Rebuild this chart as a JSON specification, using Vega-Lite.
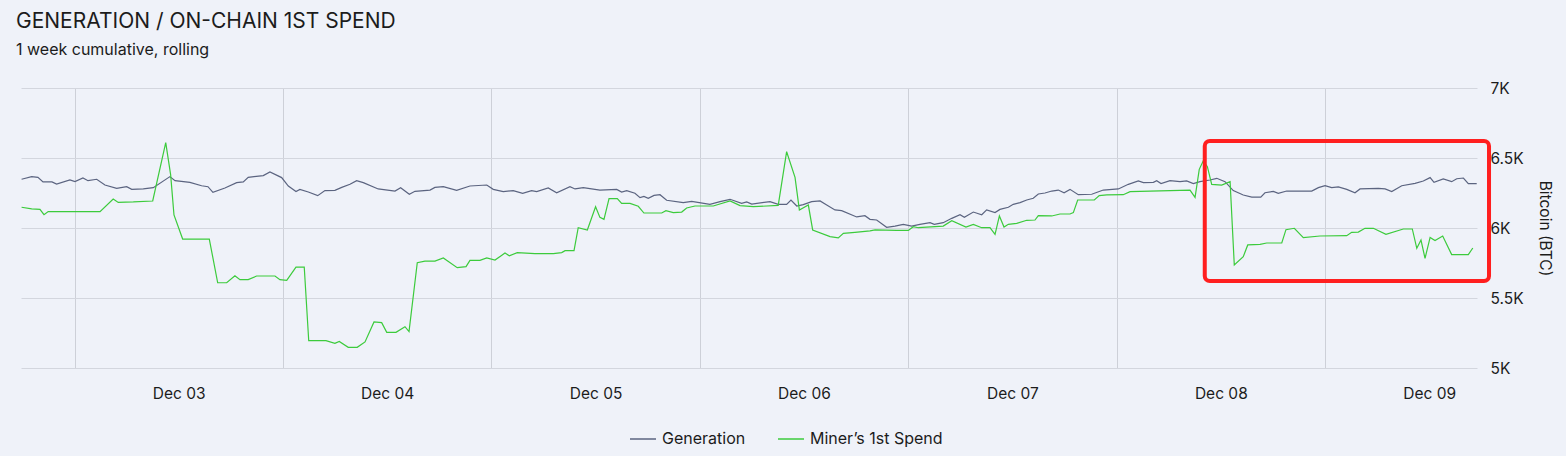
{
  "$schema": "https://vega.github.io/schema/vega-lite/v6.json",
  "width": 1456,
  "height": 280,
  "autosize": {"type": "none"},
  "padding": {"left": 21, "top": 88, "right": 89, "bottom": 88},
  "background": "#eff2f9",
  "title": {
    "text": "GENERATION / ON-CHAIN 1ST SPEND",
    "subtitle": "1 week cumulative, rolling",
    "anchor": "start",
    "frame": "group",
    "dx": -5,
    "offset": 23,
    "fontSize": 21,
    "fontWeight": "normal",
    "color": "#1c1c1c",
    "subtitleFontSize": 16,
    "subtitleColor": "#1c1c1c",
    "subtitlePadding": 10,
    "font": "Inter",
    "subtitleFont": "Inter"
  },
  "config": {
    "font": "Inter",
    "view": {"stroke": null},
    "axis": {"domain": false, "ticks": false, "gridColor": "#d3d6de", "gridWidth": 1, "labelColor": "#1c1c1c", "titleColor": "#1c1c1c"},
    "legend": {
      "orient": "none",
      "legendX": 608,
      "legendY": 337,
      "direction": "horizontal",
      "symbolType": "stroke",
      "symbolSize": 676,
      "symbolStrokeWidth": 1.5,
      "labelFontSize": 16,
      "labelColor": "#1c1c1c",
      "labelOffset": 5,
      "columnPadding": 29
    }
  },
  "datasets": {
    "series": [
      {"t": "2023-12-02T05:54", "s": "Generation", "v": 6348},
      {"t": "2023-12-02T07:04", "s": "Generation", "v": 6367},
      {"t": "2023-12-02T07:47", "s": "Generation", "v": 6362},
      {"t": "2023-12-02T08:22", "s": "Generation", "v": 6329},
      {"t": "2023-12-02T09:24", "s": "Generation", "v": 6329},
      {"t": "2023-12-02T09:56", "s": "Generation", "v": 6314},
      {"t": "2023-12-02T11:28", "s": "Generation", "v": 6343},
      {"t": "2023-12-02T12:03", "s": "Generation", "v": 6331},
      {"t": "2023-12-02T12:58", "s": "Generation", "v": 6357},
      {"t": "2023-12-02T13:33", "s": "Generation", "v": 6338},
      {"t": "2023-12-02T14:33", "s": "Generation", "v": 6348},
      {"t": "2023-12-02T15:30", "s": "Generation", "v": 6307},
      {"t": "2023-12-02T16:51", "s": "Generation", "v": 6283},
      {"t": "2023-12-02T18:00", "s": "Generation", "v": 6295},
      {"t": "2023-12-02T18:35", "s": "Generation", "v": 6276},
      {"t": "2023-12-02T19:55", "s": "Generation", "v": 6279},
      {"t": "2023-12-02T21:04", "s": "Generation", "v": 6288},
      {"t": "2023-12-02T22:59", "s": "Generation", "v": 6367},
      {"t": "2023-12-02T23:34", "s": "Generation", "v": 6338},
      {"t": "2023-12-03T01:17", "s": "Generation", "v": 6326},
      {"t": "2023-12-03T02:38", "s": "Generation", "v": 6302},
      {"t": "2023-12-03T03:22", "s": "Generation", "v": 6295},
      {"t": "2023-12-03T03:56", "s": "Generation", "v": 6255},
      {"t": "2023-12-03T05:19", "s": "Generation", "v": 6286},
      {"t": "2023-12-03T06:40", "s": "Generation", "v": 6324},
      {"t": "2023-12-03T07:26", "s": "Generation", "v": 6329},
      {"t": "2023-12-03T08:00", "s": "Generation", "v": 6362},
      {"t": "2023-12-03T09:44", "s": "Generation", "v": 6374},
      {"t": "2023-12-03T10:30", "s": "Generation", "v": 6400},
      {"t": "2023-12-03T11:51", "s": "Generation", "v": 6360},
      {"t": "2023-12-03T12:37", "s": "Generation", "v": 6300},
      {"t": "2023-12-03T13:30", "s": "Generation", "v": 6260},
      {"t": "2023-12-03T13:57", "s": "Generation", "v": 6276},
      {"t": "2023-12-03T14:55", "s": "Generation", "v": 6257},
      {"t": "2023-12-03T16:00", "s": "Generation", "v": 6231},
      {"t": "2023-12-03T16:50", "s": "Generation", "v": 6267},
      {"t": "2023-12-03T17:59", "s": "Generation", "v": 6269},
      {"t": "2023-12-03T18:46", "s": "Generation", "v": 6290},
      {"t": "2023-12-03T19:43", "s": "Generation", "v": 6312},
      {"t": "2023-12-03T20:29", "s": "Generation", "v": 6338},
      {"t": "2023-12-03T21:15", "s": "Generation", "v": 6324},
      {"t": "2023-12-03T22:58", "s": "Generation", "v": 6279},
      {"t": "2023-12-04T00:54", "s": "Generation", "v": 6264},
      {"t": "2023-12-04T01:33", "s": "Generation", "v": 6288},
      {"t": "2023-12-04T02:33", "s": "Generation", "v": 6241},
      {"t": "2023-12-04T03:12", "s": "Generation", "v": 6262},
      {"t": "2023-12-04T04:56", "s": "Generation", "v": 6271},
      {"t": "2023-12-04T05:30", "s": "Generation", "v": 6290},
      {"t": "2023-12-04T06:28", "s": "Generation", "v": 6295},
      {"t": "2023-12-04T08:00", "s": "Generation", "v": 6269},
      {"t": "2023-12-04T09:32", "s": "Generation", "v": 6300},
      {"t": "2023-12-04T11:28", "s": "Generation", "v": 6307},
      {"t": "2023-12-04T12:13", "s": "Generation", "v": 6276},
      {"t": "2023-12-04T13:22", "s": "Generation", "v": 6260},
      {"t": "2023-12-04T14:31", "s": "Generation", "v": 6267},
      {"t": "2023-12-04T15:36", "s": "Generation", "v": 6248},
      {"t": "2023-12-04T16:38", "s": "Generation", "v": 6267},
      {"t": "2023-12-04T17:13", "s": "Generation", "v": 6260},
      {"t": "2023-12-04T18:33", "s": "Generation", "v": 6286},
      {"t": "2023-12-04T19:31", "s": "Generation", "v": 6252},
      {"t": "2023-12-04T21:03", "s": "Generation", "v": 6295},
      {"t": "2023-12-04T21:38", "s": "Generation", "v": 6279},
      {"t": "2023-12-04T22:35", "s": "Generation", "v": 6288},
      {"t": "2023-12-05T00:30", "s": "Generation", "v": 6271},
      {"t": "2023-12-05T02:26", "s": "Generation", "v": 6276},
      {"t": "2023-12-05T03:00", "s": "Generation", "v": 6257},
      {"t": "2023-12-05T03:35", "s": "Generation", "v": 6267},
      {"t": "2023-12-05T04:32", "s": "Generation", "v": 6248},
      {"t": "2023-12-05T05:07", "s": "Generation", "v": 6217},
      {"t": "2023-12-05T05:34", "s": "Generation", "v": 6226},
      {"t": "2023-12-05T06:04", "s": "Generation", "v": 6212},
      {"t": "2023-12-05T06:44", "s": "Generation", "v": 6233},
      {"t": "2023-12-05T07:25", "s": "Generation", "v": 6238},
      {"t": "2023-12-05T08:11", "s": "Generation", "v": 6198},
      {"t": "2023-12-05T10:06", "s": "Generation", "v": 6181},
      {"t": "2023-12-05T11:04", "s": "Generation", "v": 6190},
      {"t": "2023-12-05T13:10", "s": "Generation", "v": 6169},
      {"t": "2023-12-05T14:20", "s": "Generation", "v": 6188},
      {"t": "2023-12-05T15:29", "s": "Generation", "v": 6205},
      {"t": "2023-12-05T16:49", "s": "Generation", "v": 6176},
      {"t": "2023-12-05T17:24", "s": "Generation", "v": 6186},
      {"t": "2023-12-05T17:59", "s": "Generation", "v": 6171},
      {"t": "2023-12-05T20:05", "s": "Generation", "v": 6188},
      {"t": "2023-12-05T21:02", "s": "Generation", "v": 6169},
      {"t": "2023-12-05T22:00", "s": "Generation", "v": 6169},
      {"t": "2023-12-05T22:30", "s": "Generation", "v": 6200},
      {"t": "2023-12-05T23:10", "s": "Generation", "v": 6157},
      {"t": "2023-12-05T23:55", "s": "Generation", "v": 6167},
      {"t": "2023-12-06T00:53", "s": "Generation", "v": 6188},
      {"t": "2023-12-06T01:51", "s": "Generation", "v": 6193},
      {"t": "2023-12-06T02:37", "s": "Generation", "v": 6164},
      {"t": "2023-12-06T03:34", "s": "Generation", "v": 6129},
      {"t": "2023-12-06T04:20", "s": "Generation", "v": 6124},
      {"t": "2023-12-06T06:04", "s": "Generation", "v": 6079},
      {"t": "2023-12-06T07:01", "s": "Generation", "v": 6088},
      {"t": "2023-12-06T07:36", "s": "Generation", "v": 6062},
      {"t": "2023-12-06T08:22", "s": "Generation", "v": 6057},
      {"t": "2023-12-06T09:31", "s": "Generation", "v": 6005},
      {"t": "2023-12-06T10:29", "s": "Generation", "v": 6014},
      {"t": "2023-12-06T11:26", "s": "Generation", "v": 6026},
      {"t": "2023-12-06T12:24", "s": "Generation", "v": 6014},
      {"t": "2023-12-06T13:21", "s": "Generation", "v": 6026},
      {"t": "2023-12-06T14:31", "s": "Generation", "v": 6038},
      {"t": "2023-12-06T15:00", "s": "Generation", "v": 6026},
      {"t": "2023-12-06T16:02", "s": "Generation", "v": 6038},
      {"t": "2023-12-06T17:01", "s": "Generation", "v": 6069},
      {"t": "2023-12-06T17:58", "s": "Generation", "v": 6095},
      {"t": "2023-12-06T18:28", "s": "Generation", "v": 6076},
      {"t": "2023-12-06T19:30", "s": "Generation", "v": 6114},
      {"t": "2023-12-06T20:28", "s": "Generation", "v": 6095},
      {"t": "2023-12-06T21:02", "s": "Generation", "v": 6129},
      {"t": "2023-12-06T22:00", "s": "Generation", "v": 6110},
      {"t": "2023-12-06T22:34", "s": "Generation", "v": 6133},
      {"t": "2023-12-06T23:32", "s": "Generation", "v": 6148},
      {"t": "2023-12-07T00:06", "s": "Generation", "v": 6169},
      {"t": "2023-12-07T00:53", "s": "Generation", "v": 6181},
      {"t": "2023-12-07T01:39", "s": "Generation", "v": 6200},
      {"t": "2023-12-07T02:24", "s": "Generation", "v": 6212},
      {"t": "2023-12-07T02:59", "s": "Generation", "v": 6243},
      {"t": "2023-12-07T03:45", "s": "Generation", "v": 6250},
      {"t": "2023-12-07T04:32", "s": "Generation", "v": 6264},
      {"t": "2023-12-07T05:17", "s": "Generation", "v": 6271},
      {"t": "2023-12-07T05:57", "s": "Generation", "v": 6252},
      {"t": "2023-12-07T06:38", "s": "Generation", "v": 6276},
      {"t": "2023-12-07T07:35", "s": "Generation", "v": 6238},
      {"t": "2023-12-07T09:08", "s": "Generation", "v": 6241},
      {"t": "2023-12-07T10:28", "s": "Generation", "v": 6271},
      {"t": "2023-12-07T12:12", "s": "Generation", "v": 6279},
      {"t": "2023-12-07T13:21", "s": "Generation", "v": 6312},
      {"t": "2023-12-07T14:30", "s": "Generation", "v": 6336},
      {"t": "2023-12-07T15:05", "s": "Generation", "v": 6324},
      {"t": "2023-12-07T16:14", "s": "Generation", "v": 6326},
      {"t": "2023-12-07T16:37", "s": "Generation", "v": 6338},
      {"t": "2023-12-07T17:07", "s": "Generation", "v": 6317},
      {"t": "2023-12-07T18:09", "s": "Generation", "v": 6338},
      {"t": "2023-12-07T19:18", "s": "Generation", "v": 6331},
      {"t": "2023-12-07T20:04", "s": "Generation", "v": 6336},
      {"t": "2023-12-07T20:50", "s": "Generation", "v": 6317},
      {"t": "2023-12-07T21:36", "s": "Generation", "v": 6331},
      {"t": "2023-12-07T22:45", "s": "Generation", "v": 6343},
      {"t": "2023-12-07T23:32", "s": "Generation", "v": 6355},
      {"t": "2023-12-08T00:29", "s": "Generation", "v": 6331},
      {"t": "2023-12-08T01:26", "s": "Generation", "v": 6267},
      {"t": "2023-12-08T02:35", "s": "Generation", "v": 6236},
      {"t": "2023-12-08T03:34", "s": "Generation", "v": 6221},
      {"t": "2023-12-08T04:36", "s": "Generation", "v": 6221},
      {"t": "2023-12-08T05:05", "s": "Generation", "v": 6252},
      {"t": "2023-12-08T06:03", "s": "Generation", "v": 6262},
      {"t": "2023-12-08T06:37", "s": "Generation", "v": 6248},
      {"t": "2023-12-08T07:35", "s": "Generation", "v": 6264},
      {"t": "2023-12-08T10:28", "s": "Generation", "v": 6264},
      {"t": "2023-12-08T11:14", "s": "Generation", "v": 6288},
      {"t": "2023-12-08T12:00", "s": "Generation", "v": 6302},
      {"t": "2023-12-08T12:46", "s": "Generation", "v": 6288},
      {"t": "2023-12-08T13:32", "s": "Generation", "v": 6293},
      {"t": "2023-12-08T14:30", "s": "Generation", "v": 6276},
      {"t": "2023-12-08T15:27", "s": "Generation", "v": 6252},
      {"t": "2023-12-08T16:02", "s": "Generation", "v": 6279},
      {"t": "2023-12-08T18:08", "s": "Generation", "v": 6283},
      {"t": "2023-12-08T18:55", "s": "Generation", "v": 6279},
      {"t": "2023-12-08T19:41", "s": "Generation", "v": 6260},
      {"t": "2023-12-08T20:50", "s": "Generation", "v": 6302},
      {"t": "2023-12-08T22:22", "s": "Generation", "v": 6319},
      {"t": "2023-12-08T23:19", "s": "Generation", "v": 6336},
      {"t": "2023-12-09T00:06", "s": "Generation", "v": 6360},
      {"t": "2023-12-09T00:33", "s": "Generation", "v": 6326},
      {"t": "2023-12-09T01:37", "s": "Generation", "v": 6350},
      {"t": "2023-12-09T02:35", "s": "Generation", "v": 6331},
      {"t": "2023-12-09T03:10", "s": "Generation", "v": 6352},
      {"t": "2023-12-09T03:56", "s": "Generation", "v": 6357},
      {"t": "2023-12-09T04:30", "s": "Generation", "v": 6317},
      {"t": "2023-12-09T05:28", "s": "Generation", "v": 6317},
      {"t": "2023-12-02T05:54", "s": "Miner’s 1st Spend", "v": 6148},
      {"t": "2023-12-02T07:04", "s": "Miner’s 1st Spend", "v": 6136},
      {"t": "2023-12-02T08:01", "s": "Miner’s 1st Spend", "v": 6133},
      {"t": "2023-12-02T08:29", "s": "Miner’s 1st Spend", "v": 6095},
      {"t": "2023-12-02T08:58", "s": "Miner’s 1st Spend", "v": 6117},
      {"t": "2023-12-02T14:56", "s": "Miner’s 1st Spend", "v": 6117},
      {"t": "2023-12-02T16:27", "s": "Miner’s 1st Spend", "v": 6207},
      {"t": "2023-12-02T17:02", "s": "Miner’s 1st Spend", "v": 6183},
      {"t": "2023-12-02T18:46", "s": "Miner’s 1st Spend", "v": 6186},
      {"t": "2023-12-02T21:00", "s": "Miner’s 1st Spend", "v": 6193},
      {"t": "2023-12-02T22:30", "s": "Miner’s 1st Spend", "v": 6610},
      {"t": "2023-12-02T23:04", "s": "Miner’s 1st Spend", "v": 6379},
      {"t": "2023-12-02T23:27", "s": "Miner’s 1st Spend", "v": 6093},
      {"t": "2023-12-03T00:27", "s": "Miner’s 1st Spend", "v": 5921},
      {"t": "2023-12-03T03:31", "s": "Miner’s 1st Spend", "v": 5921},
      {"t": "2023-12-03T04:29", "s": "Miner’s 1st Spend", "v": 5609},
      {"t": "2023-12-03T05:31", "s": "Miner’s 1st Spend", "v": 5609},
      {"t": "2023-12-03T06:28", "s": "Miner’s 1st Spend", "v": 5659},
      {"t": "2023-12-03T07:03", "s": "Miner’s 1st Spend", "v": 5631},
      {"t": "2023-12-03T08:00", "s": "Miner’s 1st Spend", "v": 5631},
      {"t": "2023-12-03T08:58", "s": "Miner’s 1st Spend", "v": 5657},
      {"t": "2023-12-03T11:05", "s": "Miner’s 1st Spend", "v": 5657},
      {"t": "2023-12-03T11:39", "s": "Miner’s 1st Spend", "v": 5631},
      {"t": "2023-12-03T12:26", "s": "Miner’s 1st Spend", "v": 5626},
      {"t": "2023-12-03T13:30", "s": "Miner’s 1st Spend", "v": 5721},
      {"t": "2023-12-03T14:27", "s": "Miner’s 1st Spend", "v": 5721},
      {"t": "2023-12-03T14:58", "s": "Miner’s 1st Spend", "v": 5195},
      {"t": "2023-12-03T16:57", "s": "Miner’s 1st Spend", "v": 5195},
      {"t": "2023-12-03T17:59", "s": "Miner’s 1st Spend", "v": 5176},
      {"t": "2023-12-03T18:29", "s": "Miner’s 1st Spend", "v": 5190},
      {"t": "2023-12-03T19:31", "s": "Miner’s 1st Spend", "v": 5148},
      {"t": "2023-12-03T20:33", "s": "Miner’s 1st Spend", "v": 5148},
      {"t": "2023-12-03T21:27", "s": "Miner’s 1st Spend", "v": 5186},
      {"t": "2023-12-03T22:29", "s": "Miner’s 1st Spend", "v": 5329},
      {"t": "2023-12-03T23:22", "s": "Miner’s 1st Spend", "v": 5324},
      {"t": "2023-12-03T23:57", "s": "Miner’s 1st Spend", "v": 5255},
      {"t": "2023-12-04T01:01", "s": "Miner’s 1st Spend", "v": 5255},
      {"t": "2023-12-04T02:03", "s": "Miner’s 1st Spend", "v": 5295},
      {"t": "2023-12-04T02:31", "s": "Miner’s 1st Spend", "v": 5260},
      {"t": "2023-12-04T03:28", "s": "Miner’s 1st Spend", "v": 5752},
      {"t": "2023-12-04T04:21", "s": "Miner’s 1st Spend", "v": 5764},
      {"t": "2023-12-04T05:30", "s": "Miner’s 1st Spend", "v": 5764},
      {"t": "2023-12-04T06:28", "s": "Miner’s 1st Spend", "v": 5786},
      {"t": "2023-12-04T08:04", "s": "Miner’s 1st Spend", "v": 5717},
      {"t": "2023-12-04T09:05", "s": "Miner’s 1st Spend", "v": 5724},
      {"t": "2023-12-04T09:32", "s": "Miner’s 1st Spend", "v": 5769},
      {"t": "2023-12-04T10:41", "s": "Miner’s 1st Spend", "v": 5769},
      {"t": "2023-12-04T11:28", "s": "Miner’s 1st Spend", "v": 5786},
      {"t": "2023-12-04T12:25", "s": "Miner’s 1st Spend", "v": 5771},
      {"t": "2023-12-04T13:34", "s": "Miner’s 1st Spend", "v": 5821},
      {"t": "2023-12-04T14:04", "s": "Miner’s 1st Spend", "v": 5802},
      {"t": "2023-12-04T14:59", "s": "Miner’s 1st Spend", "v": 5824},
      {"t": "2023-12-04T17:01", "s": "Miner’s 1st Spend", "v": 5817},
      {"t": "2023-12-04T19:08", "s": "Miner’s 1st Spend", "v": 5817},
      {"t": "2023-12-04T20:06", "s": "Miner’s 1st Spend", "v": 5824},
      {"t": "2023-12-04T20:29", "s": "Miner’s 1st Spend", "v": 5838},
      {"t": "2023-12-04T21:31", "s": "Miner’s 1st Spend", "v": 5838},
      {"t": "2023-12-04T22:00", "s": "Miner’s 1st Spend", "v": 6002},
      {"t": "2023-12-04T23:03", "s": "Miner’s 1st Spend", "v": 5986},
      {"t": "2023-12-05T00:00", "s": "Miner’s 1st Spend", "v": 6152},
      {"t": "2023-12-05T00:30", "s": "Miner’s 1st Spend", "v": 6076},
      {"t": "2023-12-05T00:58", "s": "Miner’s 1st Spend", "v": 6062},
      {"t": "2023-12-05T01:33", "s": "Miner’s 1st Spend", "v": 6210},
      {"t": "2023-12-05T02:30", "s": "Miner’s 1st Spend", "v": 6210},
      {"t": "2023-12-05T03:00", "s": "Miner’s 1st Spend", "v": 6176},
      {"t": "2023-12-05T03:58", "s": "Miner’s 1st Spend", "v": 6176},
      {"t": "2023-12-05T04:55", "s": "Miner’s 1st Spend", "v": 6155},
      {"t": "2023-12-05T05:34", "s": "Miner’s 1st Spend", "v": 6107},
      {"t": "2023-12-05T07:37", "s": "Miner’s 1st Spend", "v": 6107},
      {"t": "2023-12-05T08:06", "s": "Miner’s 1st Spend", "v": 6124},
      {"t": "2023-12-05T08:57", "s": "Miner’s 1st Spend", "v": 6110},
      {"t": "2023-12-05T09:55", "s": "Miner’s 1st Spend", "v": 6114},
      {"t": "2023-12-05T10:29", "s": "Miner’s 1st Spend", "v": 6143},
      {"t": "2023-12-05T11:27", "s": "Miner’s 1st Spend", "v": 6157},
      {"t": "2023-12-05T13:33", "s": "Miner’s 1st Spend", "v": 6157},
      {"t": "2023-12-05T15:29", "s": "Miner’s 1st Spend", "v": 6193},
      {"t": "2023-12-05T16:38", "s": "Miner’s 1st Spend", "v": 6160},
      {"t": "2023-12-05T18:10", "s": "Miner’s 1st Spend", "v": 6152},
      {"t": "2023-12-05T21:02", "s": "Miner’s 1st Spend", "v": 6162},
      {"t": "2023-12-05T22:00", "s": "Miner’s 1st Spend", "v": 6545},
      {"t": "2023-12-05T22:58", "s": "Miner’s 1st Spend", "v": 6362},
      {"t": "2023-12-05T23:28", "s": "Miner’s 1st Spend", "v": 6129},
      {"t": "2023-12-06T00:30", "s": "Miner’s 1st Spend", "v": 6164},
      {"t": "2023-12-06T01:00", "s": "Miner’s 1st Spend", "v": 5986},
      {"t": "2023-12-06T03:00", "s": "Miner’s 1st Spend", "v": 5938},
      {"t": "2023-12-06T03:57", "s": "Miner’s 1st Spend", "v": 5929},
      {"t": "2023-12-06T04:32", "s": "Miner’s 1st Spend", "v": 5962},
      {"t": "2023-12-06T05:52", "s": "Miner’s 1st Spend", "v": 5969},
      {"t": "2023-12-06T07:36", "s": "Miner’s 1st Spend", "v": 5979},
      {"t": "2023-12-06T08:11", "s": "Miner’s 1st Spend", "v": 5986},
      {"t": "2023-12-06T10:41", "s": "Miner’s 1st Spend", "v": 5983},
      {"t": "2023-12-06T12:01", "s": "Miner’s 1st Spend", "v": 5983},
      {"t": "2023-12-06T12:35", "s": "Miner’s 1st Spend", "v": 6009},
      {"t": "2023-12-06T13:10", "s": "Miner’s 1st Spend", "v": 6002},
      {"t": "2023-12-06T16:02", "s": "Miner’s 1st Spend", "v": 6014},
      {"t": "2023-12-06T17:01", "s": "Miner’s 1st Spend", "v": 6052},
      {"t": "2023-12-06T18:39", "s": "Miner’s 1st Spend", "v": 6007},
      {"t": "2023-12-06T19:30", "s": "Miner’s 1st Spend", "v": 6026},
      {"t": "2023-12-06T20:28", "s": "Miner’s 1st Spend", "v": 6002},
      {"t": "2023-12-06T21:25", "s": "Miner’s 1st Spend", "v": 6002},
      {"t": "2023-12-06T22:00", "s": "Miner’s 1st Spend", "v": 5955},
      {"t": "2023-12-06T22:30", "s": "Miner’s 1st Spend", "v": 6086},
      {"t": "2023-12-06T23:02", "s": "Miner’s 1st Spend", "v": 6007},
      {"t": "2023-12-06T23:32", "s": "Miner’s 1st Spend", "v": 6026},
      {"t": "2023-12-07T00:30", "s": "Miner’s 1st Spend", "v": 6033},
      {"t": "2023-12-07T01:39", "s": "Miner’s 1st Spend", "v": 6055},
      {"t": "2023-12-07T02:36", "s": "Miner’s 1st Spend", "v": 6057},
      {"t": "2023-12-07T02:59", "s": "Miner’s 1st Spend", "v": 6088},
      {"t": "2023-12-07T04:32", "s": "Miner’s 1st Spend", "v": 6086},
      {"t": "2023-12-07T05:29", "s": "Miner’s 1st Spend", "v": 6100},
      {"t": "2023-12-07T06:38", "s": "Miner’s 1st Spend", "v": 6100},
      {"t": "2023-12-07T07:01", "s": "Miner’s 1st Spend", "v": 6110},
      {"t": "2023-12-07T07:31", "s": "Miner’s 1st Spend", "v": 6200},
      {"t": "2023-12-07T09:26", "s": "Miner’s 1st Spend", "v": 6200},
      {"t": "2023-12-07T10:00", "s": "Miner’s 1st Spend", "v": 6231},
      {"t": "2023-12-07T10:52", "s": "Miner’s 1st Spend", "v": 6236},
      {"t": "2023-12-07T12:46", "s": "Miner’s 1st Spend", "v": 6238},
      {"t": "2023-12-07T13:33", "s": "Miner’s 1st Spend", "v": 6260},
      {"t": "2023-12-07T20:27", "s": "Miner’s 1st Spend", "v": 6271},
      {"t": "2023-12-07T21:02", "s": "Miner’s 1st Spend", "v": 6219},
      {"t": "2023-12-07T21:31", "s": "Miner’s 1st Spend", "v": 6419},
      {"t": "2023-12-07T21:59", "s": "Miner’s 1st Spend", "v": 6481},
      {"t": "2023-12-07T22:27", "s": "Miner’s 1st Spend", "v": 6438},
      {"t": "2023-12-07T22:57", "s": "Miner’s 1st Spend", "v": 6312},
      {"t": "2023-12-08T00:06", "s": "Miner’s 1st Spend", "v": 6307},
      {"t": "2023-12-08T01:04", "s": "Miner’s 1st Spend", "v": 6331},
      {"t": "2023-12-08T01:33", "s": "Miner’s 1st Spend", "v": 5736},
      {"t": "2023-12-08T02:35", "s": "Miner’s 1st Spend", "v": 5795},
      {"t": "2023-12-08T03:06", "s": "Miner’s 1st Spend", "v": 5879},
      {"t": "2023-12-08T04:31", "s": "Miner’s 1st Spend", "v": 5883},
      {"t": "2023-12-08T05:17", "s": "Miner’s 1st Spend", "v": 5893},
      {"t": "2023-12-08T07:01", "s": "Miner’s 1st Spend", "v": 5893},
      {"t": "2023-12-08T07:30", "s": "Miner’s 1st Spend", "v": 5988},
      {"t": "2023-12-08T08:28", "s": "Miner’s 1st Spend", "v": 5998},
      {"t": "2023-12-08T09:30", "s": "Miner’s 1st Spend", "v": 5931},
      {"t": "2023-12-08T11:25", "s": "Miner’s 1st Spend", "v": 5943},
      {"t": "2023-12-08T14:30", "s": "Miner’s 1st Spend", "v": 5945},
      {"t": "2023-12-08T15:04", "s": "Miner’s 1st Spend", "v": 5969},
      {"t": "2023-12-08T15:50", "s": "Miner’s 1st Spend", "v": 5971},
      {"t": "2023-12-08T16:36", "s": "Miner’s 1st Spend", "v": 5998},
      {"t": "2023-12-08T17:34", "s": "Miner’s 1st Spend", "v": 5998},
      {"t": "2023-12-08T19:01", "s": "Miner’s 1st Spend", "v": 5955},
      {"t": "2023-12-08T21:01", "s": "Miner’s 1st Spend", "v": 5993},
      {"t": "2023-12-08T22:03", "s": "Miner’s 1st Spend", "v": 5993},
      {"t": "2023-12-08T22:34", "s": "Miner’s 1st Spend", "v": 5855},
      {"t": "2023-12-08T23:03", "s": "Miner’s 1st Spend", "v": 5914},
      {"t": "2023-12-08T23:31", "s": "Miner’s 1st Spend", "v": 5783},
      {"t": "2023-12-09T00:06", "s": "Miner’s 1st Spend", "v": 5933},
      {"t": "2023-12-09T00:40", "s": "Miner’s 1st Spend", "v": 5910},
      {"t": "2023-12-09T01:33", "s": "Miner’s 1st Spend", "v": 5943},
      {"t": "2023-12-09T02:35", "s": "Miner’s 1st Spend", "v": 5810},
      {"t": "2023-12-09T04:30", "s": "Miner’s 1st Spend", "v": 5810},
      {"t": "2023-12-09T05:01", "s": "Miner’s 1st Spend", "v": 5857}
    ],
    "highlight": [
      {"start": "2023-12-07T22:09", "end": "2023-12-09T06:53", "top": 6621, "bottom": 5621}
    ]
  },
  "layer": [
    {
      "data": {"name": "series"},
      "mark": {"type": "line", "strokeWidth": 1.2, "interpolate": "linear"},
      "encoding": {
        "x": {
          "field": "t",
          "type": "temporal",
          "scale": {"domain": [{"year": 2023, "month": 12, "date": 2, "hours": 5, "minutes": 50}, {"year": 2023, "month": 12, "date": 9, "hours": 5, "minutes": 30}]},
          "axis": {
            "orient": "bottom",
            "title": null,
            "grid": false,
            "format": "%b %d",
            "labelFontSize": 15.5,
            "labelPadding": 18,
            "values": [
              {"year": 2023, "month": 12, "date": 3},
              {"year": 2023, "month": 12, "date": 4},
              {"year": 2023, "month": 12, "date": 5},
              {"year": 2023, "month": 12, "date": 6},
              {"year": 2023, "month": 12, "date": 7},
              {"year": 2023, "month": 12, "date": 8},
              {"year": 2023, "month": 12, "date": 9}
            ]
          }
        },
        "y": {
          "field": "v",
          "type": "quantitative",
          "scale": {"domain": [5000, 7000], "nice": false, "zero": false},
          "axis": {
            "orient": "right",
            "title": "Bitcoin (BTC)",
            "titleFontSize": 15.5,
            "titleFontWeight": "normal",
            "titlePadding": 13,
            "values": [5000, 5500, 6000, 6500, 7000],
            "labelExpr": "replace(format(datum.value, '~s'), 'k', 'K')",
            "labelFontSize": 15.5,
            "labelPadding": 13,
            "grid": true
          }
        },
        "color": {
          "field": "s",
          "type": "nominal",
          "title": null,
          "scale": {"domain": ["Generation", "Miner’s 1st Spend"], "range": ["#5b6480", "#3ccb3c"]}
        }
      }
    },
    {
      "data": {"name": "highlight"},
      "mark": {"type": "rect", "filled": false, "stroke": "#ff1f1f", "strokeWidth": 4, "cornerRadius": 5},
      "encoding": {
        "x": {
          "field": "start",
          "type": "temporal",
          "axis": {
            "orient": "top",
            "title": null,
            "grid": true,
            "labels": false,
            "gridColor": "#cdd0d8",
            "values": [
              {"year": 2023, "month": 12, "date": 2, "hours": 12},
              {"year": 2023, "month": 12, "date": 3, "hours": 12},
              {"year": 2023, "month": 12, "date": 4, "hours": 12},
              {"year": 2023, "month": 12, "date": 5, "hours": 12},
              {"year": 2023, "month": 12, "date": 6, "hours": 12},
              {"year": 2023, "month": 12, "date": 7, "hours": 12},
              {"year": 2023, "month": 12, "date": 8, "hours": 12}
            ]
          }
        },
        "x2": {"field": "end"},
        "y": {"field": "top", "type": "quantitative"},
        "y2": {"field": "bottom"}
      }
    }
  ],
  "resolve": {"axis": {"x": "independent"}}
}
